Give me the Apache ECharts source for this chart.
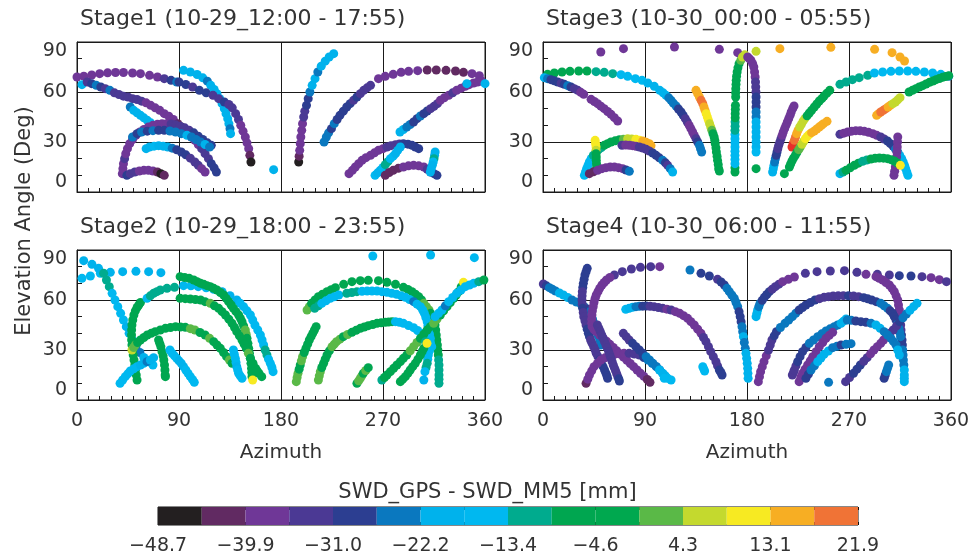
<!DOCTYPE html>
<html>
<head>
<meta charset="utf-8">
<title>SWD_GPS - SWD_MM5</title>
<script src="https://cdn.jsdelivr.net/npm/echarts@6.0.0/dist/echarts.min.js"></script>
<style>
  html, body { margin: 0; padding: 0; background: #fff; }
  #chart { width: 975px; height: 560px; }
</style>
</head>
<body>
<div id="chart"></div>
<script>
// titles of the four panels (grid order: top-left, top-right, bottom-left, bottom-right)
var stageTitles = [
  'Stage1 (10-29_12:00 - 17:55)',
  'Stage3 (10-30_00:00 - 05:55)',
  'Stage2 (10-29_18:00 - 23:55)',
  'Stage4 (10-30_06:00 - 11:55)'
]

// colour bar
var cbColors = ['#231f20', '#612a62', '#6f3797', '#4b3994', '#2c3e91', '#0a78bf', '#00b2ec', '#00b8f0',
  '#00ab8e', '#00a650', '#00a84f', '#5ab947', '#c4d92e', '#f7ea22', '#f7ae23', '#f07336']
var cbLabels = ['\u221248.7', '\u221239.9', '\u221231.0', '\u221222.2', '\u221213.4', '\u22124.6', '4.3', '13.1', '21.9']
var cbMin = -48.7
var cbMax = 21.9

// satellite tracks: [azimuth, elevation, SWD_GPS - SWD_MM5]
var stage1Tracks = [
  [[0,69,-37.7],[6,69.5,-37.7],[13,70.2,-37.7],[20,71,-37.7],[27,71.5,-37.7],[34,71.7,-37.7],[41,71.7,-37.7],[49,71.4,-37.7],[56,71,-37.7],[64,70,-37.7],[71,69,-37.7],[77,68,-33.2],[83,67,-28.8],[88,66,-24.4]],
  [[4.4,64.4,-20],[9,66,-33.2],[13,65,-28.8],[17,64,-24.4],[21,63,-28.8],[25,62,-33.2],[29,61,-24.4],[33,59.5,-33.2],[37,58.5,-33.2],[41,57.5,-33.2],[45,57,-33.2],[49,56,-33.2],[53,55.5,-33.2],[57,54.5,-33.2],[61,53.5,-37.7],[65,52,-37.7],[69,50.5,-37.7],[73,49,-37.7],[77,47,-37.7],[81,45.5,-37.7],[85,43.5,-37.7],[89,41,-42.1],[92,39,-46.5],[95,37,-37.7],[98,35,-37.7],[101,33,-37.7],[104,31,-37.7],[107,28.5,-37.7],[110,26,-33.2],[113,23,-33.2],[116,20,-33.2],[118.5,17,-28.8],[121,14.5,-28.8],[123,12,-28.8]],
  [[47,51,-24.4],[50,49,-20],[53,47.5,-20],[56,46,-20],[59,44.5,-20],[62,43,-20],[65,41.5,-20],[68,39.5,-20]],
  [[40,11,-37.7],[40.5,14,-37.7],[41,17,-37.7],[42,20,-33.2],[43,23,-37.7],[44.5,26,-37.7],[46.5,29,-37.7],[49,31.5,-37.7],[52,34,-37.7],[55.5,36,-37.7],[59,37.5,-37.7],[63,39,-37.7],[67,40,-37.7],[71,40.6,-37.7],[75,41,-37.7],[79,41,-37.7],[83,40.8,-33.2],[87,40.3,-33.2],[91,39.5,-33.2],[95,38.5,-33.2],[99,37,-33.2],[103,35.5,-28.8],[107,33.5,-28.8],[111,31.5,-28.8],[115,29.5,-28.8],[118.5,28,-28.8]],
  [[49,33,-24.4],[53,35,-28.8],[57,36,-24.4],[62,36.5,-28.8],[67,36.8,-24.4],[72,37,-28.8],[77,37,-28.8],[82,36.6,-24.4],[87,36,-24.4],[92,35,-24.4],[97,34,-20],[101,33,-24.4],[105,31.5,-24.4],[109,30,-24.4],[113,28.5,-20],[117,27,-24.4]],
  [[61,26,-20],[64,27,-20],[68,27.5,-15.6],[72,27.8,-20],[76,27.5,-20],[80,27,-20],[84,26.3,-24.4],[88,25.3,-28.8],[92,24,-28.8],[96,22.3,-28.8],[100,20.3,-33.2],[104,18,-33.2],[107,16,-33.2],[110,14,-37.7],[113,12,-37.7]],
  [[44,10,-28.8],[47,11,-33.2],[51,12,-33.2],[55,12.6,-37.7],[59,13,-37.7],[63,13,-37.7],[67,12.6,-37.7],[71,12,-42.1],[74,11,-46.5],[77,10,-42.1]],
  [[94,73,-20],[100,72,-20],[106,70.5,-20],[111,68.5,-20],[115,66.5,-24.4],[118,64,-20],[121,61.5,-20],[123.5,59,-20],[126,56,-20],[128,53,-20],[130,50,-20],[131.5,47,-20],[133,44,-20],[134,41,-20],[135,38,-24.4],[135.5,35,-20]],
  [[90,66,-28.8],[96,64.5,-28.8],[102,63,-33.2],[108,61,-28.8],[114,59.5,-28.8],[120,58,-33.2],[125,56,-33.2],[130,54,-28.8],[134,52.5,-33.2],[137,50.5,-33.2],[140,47,-33.2],[142.5,43.5,-33.2],[144.5,40,-37.7],[146.5,36.5,-37.7],[148.5,33,-37.7],[150,29.5,-37.7],[151.5,26,-37.7],[152.5,22,-42.1],[153.5,18,-46.5]],
  [[173.5,13.4,-20]],
  [[195.6,18,-46.5],[196,21.5,-42.1],[196.5,25,-37.7],[197,29,-37.7],[197.5,33,-37.7],[198.3,37,-37.7],[199,41,-37.7],[200,45,-33.2],[201,48.5,-33.2],[202.5,52,-28.8],[204,56,-28.8],[205.5,60,-24.4],[207.5,64,-20],[210,68,-20],[212.5,72,-24.4],[215.5,75.5,-20],[219,78.5,-20],[222.5,81,-20],[226.5,83,-20]],
  [[218,30,-24.4],[220,33,-24.4],[222,35.5,-24.4],[224.5,38,-28.8],[227,41,-24.4],[229.5,43.5,-28.8],[232,46,-28.8],[235,48.5,-28.8],[238,51,-28.8],[241,53,-28.8],[244,55,-33.2],[247,57,-28.8],[250,59,-33.2],[253,61,-33.2],[256,62.5,-33.2],[259,64,-33.2]],
  [[266,68,-37.7],[272,69.4,-37.7],[279,70.6,-37.7],[286,71.8,-37.7],[292.6,72.4,-37.7],[300.6,72.8,-37.7],[309,73.2,-42.1],[317,73.2,-42.1],[325.6,73,-42.1],[334,72.6,-42.1],[341,71.8,-42.1],[348.5,71,-37.7],[355,69.8,-37.7]],
  [[285,36,-20],[288,37.5,-20],[291,39,-24.4],[294,40.5,-24.4],[297,42,-28.8],[300,44,-28.8],[303,45.6,-24.4],[306,47,-28.8],[309,48.6,-28.8],[312,50,-33.2],[315,51.4,-33.2],[318,53,-33.2],[320.6,55,-37.7],[324,56.5,-37.7],[328,58,-37.7],[331.5,59.5,-33.2],[335,61,-37.7],[339,62.3,-37.7],[342.6,63.4,-37.7],[346,64.4,-37.7],[350,65.4,-37.7],[353.5,66,-37.7],[357,66.6,-37.7],[344,65,-20],[360,65,-20]],
  [[240,11,-37.7],[243,13,-37.7],[245.6,15,-37.7],[248.5,17,-37.7],[251.5,19,-37.7],[255,20.6,-37.7],[259,22,-37.7],[262.5,23.5,-37.7],[266,25,-37.7],[270,26,-37.7],[273.5,27,-33.2],[277,27.8,-33.2],[281,28.4,-33.2],[284.5,28.8,-33.2],[288,29,-28.8],[292,28.7,-28.8],[295.6,28,-28.8],[298.5,27,-28.8],[301.5,26,-28.8]],
  [[263,10,-15.6],[265.3,11.5,-20],[267.6,13,-20],[270,14.7,-15.6],[272,16.4,-11.2],[274.3,18.2,-11.2],[276.5,20,-15.6],[279,21.5,-15.6],[281,23,-20],[283,25,-20],[285.3,27,-20]],
  [[272,10,-42.1],[275.5,11.7,-42.1],[279,13,-42.1],[283.5,14.2,-42.1],[288,15,-37.7],[292.5,15.7,-37.7],[297,16,-37.7],[301.5,15.7,-37.7],[306,15,-37.7],[309,13.6,-33.2],[312,12,-33.2],[315,11,-28.8],[317.6,10,-28.8]],
  [[316,24,-20],[315.5,22,-20],[315,20,-11.2],[314.3,18,-15.6],[313.5,16,-20],[312.5,14,-20],[311.8,12,-20]]
]

var stage3Tracks = [
  [[51,84,-37.7],[71,86,-37.7],[116,87,-37.7],[155.6,85.6,-37.7],[171.8,83.6,-37.7],[188,84.4,6.5],[209,86,15.3],[254,86.8,15.3],[292.6,85.6,15.3],[308,83.6,15.3],[315,81,15.3],[319,78.6,15.3]],
  [[4,70.6,-6.8],[10,71.4,-6.8],[16.8,72,-6.8],[23.8,72.4,-6.8],[31.5,72.6,-6.8],[38.8,72.6,-6.8],[46.8,72.2,-11.2],[54,71.8,-11.2],[61.5,71,-11.2],[68.8,70.4,-15.6],[74.7,69.4,-15.6],[81.5,68,-15.6],[87.4,67,-15.6],[92.4,65.4,-20],[98.2,63.4,-20],[103,61,-20],[106,59.5,-20],[108.5,58,-20],[111,56.5,-24.4],[113,55,-24.4],[115,53.3,-24.4],[117.4,51.6,-24.4],[119.5,49.8,-28.8],[121.8,48,-28.8],[123.7,46,-28.8],[125.6,44,-33.2],[127.3,42,-33.2],[129,40,-37.7],[130.5,38,-37.7],[132,36,-37.7],[133.5,34,-37.7],[135,32,-33.2],[136.5,30,-28.8],[138,28,-24.4],[139,26,-24.4],[140,24,-24.4]],
  [[1.2,68.6,-20],[4,68,-24.4],[7,67.4,-28.8],[10,66.7,-28.8],[13,66,-28.8],[16,65.3,-33.2],[18.8,64.6,-28.8],[21.8,63.8,-24.4],[24.7,63,-28.8],[27.6,62,-33.2],[30.6,61,-33.2],[33.3,59.8,-37.7],[35.9,58.6,-37.7],[42.4,55.6,-37.7],[45.3,54.3,-37.7],[48.2,53,-37.7],[51,51.5,-37.7],[54,50,-37.7],[57,48.3,-37.7],[60,46.6,-37.7],[63,44.6,-37.7],[65.9,42.6,-37.7]],
  [[36.5,10,-15.6],[37.5,12,-15.6],[38.5,14,-15.6],[39.7,16,-15.6],[40.9,18,-15.6],[42.5,20,-15.6],[44.4,22,-11.2],[46.7,23.7,-11.2],[49,25.4,-11.2],[51.5,26.7,-11.2],[54,28,-6.8],[57,29,-6.8],[60,30,-6.8],[63.7,30.7,-6.8],[67.4,31.4,-6.8],[71,31.7,2],[74.7,32,6.5],[78.3,31.8,6.5],[82,31.6,10.9],[85,31.1,10.9],[88,30.6,15.3],[91,29.8,15.3],[93.8,29,15.3],[95.3,27.8,15.3]],
  [[46,31,10.9],[46.4,29,10.9],[46.8,27,10.9],[46.8,25,6.5],[46.8,23,-6.8],[47,21,-6.8],[47,19,-6.8],[47.2,17,-6.8],[47.4,15,-6.8]],
  [[40.9,11,-42.1],[44.5,12.1,-42.1],[48.2,13,-37.7],[52,14,-37.7],[55.6,14.6,-37.7],[59.3,15,-37.7],[63,15,-37.7],[66.6,14.6,-37.7],[70.3,14,-37.7],[73.3,13.2,-28.8],[76.2,12.4,-24.4]],
  [[69.7,28,-33.2],[73,28.2,-37.7],[76.2,28,-37.7],[79,27.8,-37.7],[82,27.4,-37.7],[85,27,-33.2],[88,26.4,-33.2],[91,25.6,-33.2],[93.8,24.6,-33.2],[96.8,23.4,-28.8],[99.7,22,-28.8],[102.6,20.5,-28.8],[105.6,19,-24.4],[108,17.5,-28.8],[110,16,-33.2],[112.3,14,-24.4],[114.4,12,-20]],
  [[135,61,15.3],[136.5,59,15.3],[138,57,15.3],[139.5,55,19.7],[141,53,19.7],[142,51,15.3],[143,49,15.3],[144,47,10.9],[145,45,10.9],[146,43,10.9],[147,41,6.5],[148,39,6.5],[149,37,2],[150,35,-6.8],[151,33,-6.8],[151.6,31,-6.8],[152,29,-6.8],[152.6,26.5,-6.8],[153,24,-6.8],[153.6,21.5,-6.8],[154,19,-6.8],[154.6,16.5,-6.8],[155,14,-6.8],[155.6,12.6,-6.8]],
  [[169.4,12,-6.8],[169.4,14.5,-6.8],[169.4,17,-15.6],[169.4,19.5,-15.6],[169.4,22,-15.6],[169.4,24.5,-15.6],[169.4,27,-15.6],[169.4,29.5,-15.6],[169.4,32,-15.6],[169.4,34.5,-15.6],[169.4,37,-11.2],[169.5,39.5,-11.2],[169.5,42,-11.2],[169.6,44.5,-6.8],[169.6,47,-6.8],[169.7,49.5,-6.8],[169.8,52,-6.8],[170,57,-6.8],[170,59.5,-6.8],[170.1,62,-6.8],[170.3,64.5,-6.8],[170.5,67,-6.8],[170.8,69.5,-6.8],[171.3,72,-6.8],[172,74.5,-6.8],[173,77,-6.8],[174.5,79,2],[176,81,6.5],[178,82.3,6.5]],
  [[180.6,81,-37.7],[182,80,-37.7],[183.5,79,-37.7],[185,77,-37.7],[186,75,-37.7],[186.7,72,-37.7],[187.2,69,-37.7],[187.5,66,-33.2],[187.7,63,-33.2],[187.9,60,-33.2],[188,57,-28.8],[188,54,-28.8],[188,51,-28.8],[188,48,-24.4],[188,45,-24.4],[188,42,-20],[188,39,-20],[188,36,-20],[188,33,-20],[188,30,-20],[188,27,-20],[188,24,-15.6],[188,14,-6.8]],
  [[202.6,12,-20],[203.2,14,-20],[203.8,16,-20],[204.4,18,-24.4],[205,20,-24.4],[205.8,22,-28.8],[206.5,24,-28.8],[207.2,26,-33.2],[208,28,-33.2],[209,30,-33.2],[210,32,-33.2],[211,34,-37.7],[212,36,-37.7],[213.2,38,-37.7],[214.4,40,-37.7],[215.6,42,-37.7],[216.8,44,-37.7],[218,46,-37.7],[219,48,-37.7],[220.3,50,-37.7],[221.5,51.6,-37.7]],
  [[213,11,-6.8]],
  [[219.7,27,24],[220.7,29,24],[221.8,31,19.7],[222.8,33,19.7],[223.8,35,15.3],[225,37,15.3],[226.5,39,6.5],[228,40.6,6.5],[229.5,42.5,6.5],[231,44,6.5],[233,45.7,-2.4],[235,47.4,-6.8],[237,49,-6.8],[239.4,51,-6.8],[241.6,52.8,-6.8],[243.8,54.6,-6.8],[246,56,-6.8],[248,57.6,-6.8],[250.5,59.3,-6.8],[253,61,-6.8]],
  [[217.4,15,-6.8],[218.5,16.8,-6.8],[219.7,18.6,-6.8],[221,20.3,-6.8],[222.6,22,-6.8],[224,23.7,-2.4],[225.6,25.4,2],[227,27,2],[228.5,28.6,6.5],[230,30.3,6.5],[231.5,32,10.9],[233.2,33.4,10.9],[235,34.6,10.9],[237,35.6,15.3],[239.4,36.6,15.3],[241.6,37.8,15.3],[243.8,39,15.3],[245.7,40,15.3],[247.6,41,15.3],[250.6,42.4,15.3]],
  [[262,64.6,-11.2],[267.4,66,-11.2],[273,67.4,-11.2],[279,68.6,-11.2],[286.5,70,-11.2],[292.4,71.4,-15.6],[299.7,72,-15.6],[307,72.4,-15.6],[314.4,72.6,-15.6],[321.8,72.6,-15.6],[329,72.4,-15.6],[336.5,72,-15.6],[343.8,71.4,-15.6],[351,70.6,-15.6],[358,69.4,-24.4]],
  [[323,60,-6.8],[326,61,-6.8],[329,62,-6.8],[332,63,-6.8],[335,63.8,-6.8],[338,64.8,-6.8],[341,65.8,-6.8],[344,66.6,-6.8],[346.8,67.4,-6.8],[349.7,68.1,-6.8],[352.6,68.8,-6.8],[355.3,69.3,-6.8],[358,69.8,-6.8]],
  [[294.4,46,15.3],[296.2,47,15.3],[298,48,19.7],[300.3,49,19.7],[302.6,50,19.7],[304.5,51,15.3],[306.5,52,15.3],[308.8,53,6.5],[311,54,6.5],[313,55.3,6.5],[315,56.6,6.5]],
  [[262,34.6,-33.2],[265.4,35.3,-37.7],[268.8,36,-37.7],[272.4,36.5,-37.7],[276,36.8,-37.7],[279.8,36.7,-37.7],[283.5,36.4,-37.7],[287.2,35.8,-37.7],[291,35,-37.7],[294.5,34,-37.7],[298,33,-33.2],[301,31.8,-33.2],[304,30.6,-28.8],[306.5,29,-28.8],[309,27.4,-28.8],[311,25.7,-24.4],[313,24,-24.4],[314.8,22,-20],[316.5,20,-20],[317.8,18,-20],[319,16,-20],[320,14,-15.6],[321,12,-15.6],[322,10,-15.6]],
  [[313,33,-37.7],[312.8,30,-37.7],[312.6,27,-37.7],[312.3,24,-37.7],[312,21,-37.7],[311.5,18,-37.7],[310.9,15,-37.7],[310.3,12.5,-37.7],[309.7,10,-37.7]],
  [[262,11,-20],[264.7,12,-11.2],[267.4,13,-6.8],[271,14.5,-6.8],[274.7,16,-6.8],[278.3,17.3,-6.8],[282,18.4,-11.2],[285.7,19.2,-11.2],[289.4,19.8,-6.8],[293,20.2,-6.8],[296.8,20.4,-6.8],[300.4,20.3,-6.8],[304,20,-6.8],[307,19.4,-6.8],[310,18.6,-6.8],[312.7,17.4,-6.8],[315.3,16,10.9]]
]

var stage2Tracks = [
  [[4.4,73,-15.6],[11.8,74.4,-15.6],[20.6,76,-15.6],[29.4,76.6,-20],[40.3,77,-20],[52,77.2,-20],[63.2,77,-20],[74,76.4,-20]],
  [[5.9,83.6,-20],[13.2,81.4,-20],[19,79,-20],[23.5,76,-11.2],[26,72,-11.2],[28.5,68,-11.2],[31,64,-15.6],[33.5,60,-15.6],[36,56,-15.6],[38.5,52,-15.6],[41,48,-15.6],[43.5,44,-20],[46,40,-20],[49,36,-20],[52,32,-24.4],[55.5,28.5,-24.4],[59,25.5,-20],[63,23,-20],[67,21,-15.6]],
  [[53,12,-6.8],[52.3,15,-6.8],[51.6,18,-6.8],[51,21,-6.8],[50.3,24,-6.8],[49.6,27,-6.8],[49,30,-6.8],[48.5,33,-6.8],[48.2,36,-6.8],[48.1,39,-6.8],[48.2,42,-6.8],[48.5,45,-6.8],[49.2,48,-6.8],[50.2,51,-6.8],[51.5,53.5,-6.8],[53,55.5,-6.8],[54.5,57,-6.8],[56,58.5,-6.8]],
  [[48.5,30,6.5],[50,31.5,2],[51.5,33,2],[53.5,34.5,-6.8],[56,36,-6.8],[59,37.5,-6.8],[62,39,-6.8],[65.5,40,-6.8],[69,41,-6.8],[73.5,42,-6.8],[78,43,-6.8],[82.5,43.5,-6.8],[87,44,-6.8],[91.3,43.8,-6.8],[95.6,43.6,-6.8],[100,42.8,2],[104,42,2],[108.5,40.5,-6.8],[113,39,-6.8],[117,37,2],[120.6,35,-6.8],[123.5,33,-6.8],[126.5,31,-6.8],[129.3,28.5,-6.8],[132,26,-6.8],[134.5,24,2],[136.8,22,-6.8]],
  [[38,10,-15.6],[40.3,12,-15.6],[42.6,14,-15.6],[44.8,15.7,-15.6],[47,17.4,-15.6],[50,18.7,-15.6],[53,20,-15.6],[56,21,-20],[58.8,22,-20],[61.8,23,-24.4],[64.7,24,-20],[67.6,25.4,-20]],
  [[72,36,-6.8],[73,34,-6.8],[74,32,-6.8],[75,29,-6.8],[76,26.5,-6.8],[76.6,24,-6.8],[77.2,21,-6.8],[77.6,18,-6.8],[77.8,15,-6.8],[78,14,-6.8]],
  [[82,30,-15.6],[84,28,-15.6],[86,26.5,-15.6],[88,25,-15.6],[90,23.5,-20],[92,22,-20],[94,20,-20],[96,18,-15.6],[98,16,-15.6],[100,14,-15.6],[102,12.2,-15.6],[103.5,10.6,-15.6]],
  [[61.8,61,-15.6],[64.7,62.5,-11.2],[67.6,64,-11.2],[70.5,65,-11.2],[73.5,66,-11.2],[79.4,67,-11.2],[86,67.6,-11.2],[94,68.6,-15.6],[100.5,68.5,-15.6],[107,68,-15.6],[114,67.3,-15.6],[120.6,66.4,-15.6],[128,65,-20],[135,62.6,-20],[141,60,-20],[144,58,-15.6],[147,56,-15.6],[150,53.5,-15.6],[153,51,-15.6],[155,48,-15.6],[157,45,-15.6],[159.5,42,-15.6],[161.8,39,-15.6],[163.3,36,-15.6],[164.7,33,-15.6],[166,30,-11.2],[167.6,27,-11.2],[169,24.5,-15.6],[170.6,22,-15.6],[172,19.5,-15.6],[173,17,-15.6]],
  [[91,74,-6.8],[95,73.5,-6.8],[99,73,-6.8],[103,72,-6.8],[106,71,-6.8],[109,70,-6.8],[111.8,69.4,-6.8],[114.7,68.6,-6.8],[117.6,68,-6.8],[120.6,67,-6.8],[123.5,66,-6.8],[126.5,64.5,-6.8],[129.4,63,-6.8],[131.6,61,-6.8],[133.8,59,-6.8],[136,57,-6.8],[138,55,-2.4],[140.3,53,-6.8],[142.6,51,-6.8],[144.2,49,-6.8],[145.6,47,-6.8],[147,44.5,-6.8],[148.5,42,2],[149.3,39.5,2],[150,37,-6.8],[150.8,34,-6.8],[151.5,31,-6.8],[152.2,28,-6.8],[153,25,-6.8],[153.5,22,-6.8],[154,19,-6.8],[154.2,16.5,-6.8],[154.4,14,-6.8],[155,12,10.9]],
  [[91,61,-6.8],[95.5,60.8,-6.8],[100,60.6,-6.8],[104.5,60.3,-6.8],[109,60,-6.8],[113,59,-6.8],[117.6,58,2],[121.3,56.5,-6.8],[125,55,-6.8],[128,53,-6.8],[131,51,-6.8],[134,48.5,-6.8],[136.8,46,-6.8],[139,43.5,-6.8],[141,41,-6.8],[143.3,38.5,-6.8],[145.6,36,-6.8],[147.5,33.5,-6.8],[149.4,31,-6.8],[151.2,28,2],[153,25,-6.8],[155.3,22,-6.8],[157.6,19,-6.8],[159,17.5,-6.8],[160.6,16,-6.8],[163,14,-6.8]],
  [[138,30,-15.6],[138.8,27.5,-15.6],[139.7,25,-15.6],[140.3,22.5,-15.6],[141,20,-20],[141.8,18,-15.6],[142.6,16,-15.6],[144,14.5,-15.6],[145.6,13,-15.6]],
  [[193.5,11,2],[194.2,13.5,2],[195,16,2],[196,18.5,-6.8],[197,21,-6.8],[198,23.5,2],[199,26,2],[200.5,28.5,-6.8],[202,31,-6.8],[203.5,33.5,-6.8],[205,36,-6.8],[206.5,38,-6.8],[208,40,-6.8],[209.5,42,-6.8],[211,44,-6.8]],
  [[203,54,2],[205,56,2],[207,58,-6.8],[210,60,-6.8],[213,62,-6.8],[216.6,63.5,-6.8],[220.6,65,-6.8],[224.3,66.2,-6.8],[228,67.4,-6.8],[235.3,69.4,-6.8],[242.6,71,-6.8],[250,71.6,-6.8],[257,71.8,-6.8],[266,71.6,-6.8],[273.5,70.6,-6.8],[281,69.4,-6.8],[288,67.6,-6.8],[292,66.3,-6.8],[295.6,65,-6.8],[298.6,63.5,-6.8],[301.5,62,-6.8],[304,60,-6.8],[306,58,2],[308.3,56,2],[310.6,54,2],[312,52,-6.8],[313.5,50,-6.8],[314.7,47.5,-6.8],[315.9,45,-6.8],[316.5,42,-6.8],[317,39,-6.8],[317.5,36,-6.8],[318,33,-6.8],[318.4,30,-6.8],[318.8,27,-6.8],[319.1,24,-11.2],[319.4,21,-11.2],[319.4,18,-11.2],[319.4,15,-11.2],[319.4,12.5,-11.2],[319.4,10,-11.2]],
  [[209.7,55,-11.2],[213,56.5,-11.2],[216,58,-15.6],[219.7,59.5,-15.6],[223.5,61,-15.6],[227.2,62,-15.6],[231,63,-15.6],[238,64,-11.2],[242.5,64.5,-11.2],[247,65,-11.2],[251.5,65.2,-15.6],[256,65.4,-15.6],[260.3,65.4,-15.6],[264.7,65.4,-15.6],[269,65,-15.6],[273.5,64.6,-15.6],[277.7,64,-15.6],[282,63.4,-15.6],[286,62.5,-15.6],[289.7,61.6,-15.6],[293.4,60.3,-15.6],[297,59,-24.4],[300,57.5,-15.6],[303,56,-15.6],[305,54,-15.6],[306.5,52,-15.6],[307.8,49.5,-15.6],[309,47,-15.6],[309.6,44.5,-15.6],[310,42,-15.6],[311,39.5,-15.6],[311.8,37,-15.6],[311.8,34.5,-15.6],[311.8,32,-15.6],[311,29.5,-15.6],[310,27,-15.6],[309.5,24.5,-15.6],[309,22,-11.2],[308,19.5,-11.2],[307,17,-15.6],[306,12,-20]],
  [[213,12,2],[213.8,14.5,2],[214.7,17,2],[216,19.5,-6.8],[217.6,22,-6.8],[219,24.5,-6.8],[220.6,27,-6.8],[222.7,29.5,-6.8],[225,32,2],[227,33.5,2],[229,35,2],[232,36.5,2],[235,38,-6.8],[238.8,39.3,2],[242.6,40.6,-6.8],[246.3,41.8,-6.8],[250,43,-6.8],[253.5,43.8,-6.8],[257,44.6,-6.8],[261,45.3,-6.8],[264.7,46,-6.8],[268.4,46.3,-6.8],[272,46.6,-6.8],[275,46.8,-6.8],[278,47,-6.8]],
  [[281,47,-15.6],[284.5,46.6,-15.6],[288,46,-15.6],[292.5,44.7,-15.6],[297,43.4,-15.6],[300.5,41.7,-15.6],[304,40,-15.6],[307,38,-15.6],[310,36,-15.6],[311.5,34,-15.6],[313,32,-15.6]],
  [[247,10,-6.8],[248.5,11.5,2],[250,13,2],[251.3,14.5,2],[252.6,16,-6.8],[254.8,17.7,2],[257,19.4,-6.8]],
  [[269,12,-11.2],[271.3,13.5,-6.8],[273.5,15,-6.8],[276.5,17,-6.8],[279.4,19,-6.8],[282.3,21,-6.8],[285.3,23,-6.8],[288,25,-6.8],[291,27,-6.8],[294,29.5,2],[297,32,2],[300,34.5,2],[303,37,-6.8],[306,39.5,-6.8],[309,42,-6.8],[311.8,44,-6.8],[314.7,46,2],[317.6,48.5,2],[320.6,51,-6.8],[323.5,53.5,-6.8],[326.5,56,-6.8],[329.4,58.5,-6.8],[332.4,61,-6.8],[334.6,63,-6.8],[336.8,65,-6.8],[339,67.8,-6.8],[341,70.6,10.9]],
  [[316,50,-15.6],[319,52,-15.6],[322,54,-15.6],[325,56.5,-24.4],[328,59,-15.6],[331.5,61.5,-15.6],[335,64,-15.6],[338.8,66,-15.6],[342.6,68,-15.6],[346.3,69,-15.6],[350,70,-15.6],[354.5,71,-11.2],[359,72,-6.8]],
  [[285.3,11,-6.8],[287.5,12.5,-6.8],[289.7,14,-6.8],[292,16,-6.8],[294,18,-6.8],[296.2,20,-6.8],[298.5,22,-6.8],[300.8,24.5,-6.8],[303,27,-6.8],[304.5,29,-6.8],[306,31,-6.8],[307.5,35,-11.2],[308.8,34,10.9]],
  [[261,86.4,-15.6],[312,87,-15.6],[350.6,85.4,-15.6]]
]

var stage4Tracks = [
  [[0.3,69.6,-33.2],[3,68.5,-28.8],[5.6,67.4,-24.4],[8.3,66.4,-24.4],[11,65.4,-24.4],[14.5,64.2,-20],[18,63,-20],[21.8,61.5,-20],[25.6,60,-24.4],[29.5,58.8,-24.4],[33.5,57.6,-24.4],[36.3,56,-24.4],[39,54.6,-28.8],[40.7,52.8,-24.4],[42.4,51,-24.4],[43.7,48.5,-24.4],[45,46,-24.4],[46.2,43.5,-28.8],[47.4,41,-28.8],[48.7,38.5,-24.4],[50,36,-24.4],[51,33,-24.4]],
  [[39,79,-28.8],[38,77,-28.8],[37,75,-28.8],[36.3,72.5,-28.8],[35.6,70,-28.8],[35.1,67.5,-28.8],[34.7,65,-33.2],[34.5,62.5,-33.2],[34.4,60,-33.2],[34.6,57.5,-33.2],[35,55,-28.8],[35.5,52.5,-33.2],[36,50,-33.2],[37,47.5,-33.2],[38,45,-33.2],[39,42.5,-28.8],[40,40,-28.8],[41,38,-28.8],[42,36,-33.2],[43.3,34,-33.2],[44.7,32,-33.2],[46,30,-33.2],[47,28,-33.2],[48.5,26,-33.2],[50,24,-28.8],[51.5,22,-28.8],[53,20,-28.8],[54.3,18,-28.8],[55.6,16,-28.8],[56.4,14.5,-28.8],[57,13,-28.8]],
  [[103,80,-37.7],[95,80,-33.2],[86,79.6,-33.2],[78,78.6,-33.2],[70,77,-33.2],[63,75,-33.2],[59,73.5,-37.7],[56,72,-37.7],[54,70.5,-37.7],[52,69,-37.7],[50,67,-37.7],[48.5,65,-37.7],[47,63,-37.7],[46,61,-37.7],[45,58.5,-37.7],[44.3,56,-37.7],[43.6,53.5,-37.7],[43.2,51,-37.7],[43,48.5,-37.7],[43,46,-37.7],[43.3,44,-37.7],[45,42.3,-37.7],[47,41,-37.7],[50,39,-37.7],[53,37.3,-37.7],[56,35.3,-37.7],[59,33.4,-37.7],[62,31.5,-37.7],[65,29.6,-37.7],[68,27.6,-37.7],[71,25.7,-37.7],[74,23.8,-37.7],[77,21.9,-37.7],[80,20,-37.7],[83,18,-37.7],[86,16,-37.7],[89,14.2,-37.7],[92,12.3,-42.1],[94.4,10.6,-42.1]],
  [[38,10,-42.1],[39.5,12.5,-37.7],[41,15,-37.7],[43,17.5,-37.7],[45,20,-37.7],[48,22,-37.7],[51,24,-37.7],[54.7,25.3,-37.7],[58.5,26.6,-37.7],[62.7,27.3,-37.7],[67,28,-37.7],[71.5,28,-37.7],[76,28,-33.2],[80.5,27.6,-33.2],[85,27,-33.2],[89,25.5,-28.8],[92.6,24,-24.4],[96.3,22,-24.4],[100,20,-24.4],[103,18,-24.4],[105.6,16,-20],[108,14.5,-20],[110,13,-15.6],[113,12,-15.6]],
  [[48,45,-33.2],[49.3,43,-33.2],[50.6,41,-33.2],[51.8,39,-33.2],[53,37,-33.2],[54.3,35,-33.2],[55.6,33,-33.2],[56.8,31,-33.2],[58,29,-33.2],[59,27,-33.2],[60,25,-33.2],[61,23,-33.2],[62,21,-33.2],[63,19.3,-33.2],[64,17.6,-33.2],[65,15.8,-33.2],[66,14,-33.2],[66.8,12.7,-28.8],[67.4,11.4,-28.8]],
  [[70.9,40,-33.2],[73.4,38,-33.2],[76,36,-33.2],[79,34,-28.8],[82,32,-28.8],[85,30,-28.8],[88,28,-28.8],[91,26,-24.4],[94,24,-24.4],[97,22,-24.4],[100,20,-24.4],[102.8,18,-20],[105.6,16,-20],[107,13,-15.6]],
  [[73,54.4,-15.6],[76,55,-20],[79,55.6,-20],[82,56,-24.4],[85,56.2,-24.4],[88,56.3,-28.8],[91,56.4,-28.8],[94.5,56.2,-33.2],[98,56,-33.2],[101.8,55.5,-33.2],[105.6,55,-33.2],[109.3,54.5,-37.7],[113,54,-33.2],[116.8,53,-37.7],[120.6,52,-37.7],[124,50.6,-37.7],[127.6,49,-37.7],[130.5,47,-37.7],[133.5,45,-37.7],[136.5,42.5,-37.7],[139.4,40,-37.7],[141.6,37.5,-33.2],[143.8,35,-33.2],[146,32,-33.2],[148,29,-33.2],[150.3,26,-33.2],[152.6,23,-33.2],[154,20.5,-33.2],[155.6,18,-28.8],[157,16.5,-28.8],[158,15,-28.8]],
  [[141,20,-15.6],[141.8,18.7,-15.6],[142.6,17.4,-15.6]],
  [[129.7,78,-24.4],[139.4,76,-28.8],[146.8,74.4,-28.8],[154,72.4,-33.2],[157.2,70.8,-28.8],[160,69,-28.8],[162.3,67,-24.4],[164.4,65,-24.4],[166.6,63,-24.4],[168.8,61,-24.4],[170.3,58.5,-24.4],[171.8,56,-24.4],[173,53,-28.8],[174,50,-28.8],[174.8,47,-28.8],[175.6,44,-24.4],[176.2,41,-24.4],[176.8,38,-20],[177.6,34.5,-24.4],[178.5,31,-24.4],[179.1,28,-20],[179.7,25,-20],[180.2,22,-20],[180.6,19,-20],[180.8,16,-20],[181,13,-20]],
  [[188,50,-20],[188.7,52,-20],[189.4,54,-20],[190.4,56,-24.4],[191.5,58,-24.4],[193.4,59.8,-28.8],[195.3,61.6,-28.8],[197.5,63.3,-28.8],[199.7,65,-28.8],[202.3,66.5,-33.2],[205,68,-33.2],[208.2,69.5,-33.2],[211.5,71,-37.7],[216.5,72.4,-37.7],[221.8,73.8,-37.7],[231.5,76,-33.2],[241.8,77,-33.2],[253.5,77.4,-33.2],[266,77.6,-33.2],[277,76.6,-33.2],[285,75.4,-37.7],[295,75.4,-33.2],[305.6,75,-33.2],[314.4,74.6,-28.8],[324.7,74.4,-28.8],[334.4,74,-33.2],[342.4,73.4,-37.7],[349.7,72.2,-37.7],[356,71,-33.2]],
  [[293.8,74,-37.7],[296.7,73,-37.7],[299.7,72,-37.7],[302.6,70.5,-37.7],[305.6,69,-37.7],[308,67,-37.7],[310,65,-37.7],[311.6,62.5,-37.7],[313,60,-37.7],[313.7,57,-37.7],[314.4,54,-37.7],[314.9,51,-37.7],[315.3,48,-33.2],[315.6,45,-33.2],[315.9,42,-33.2],[316.3,39,-28.8],[316.8,36,-28.8],[317.1,33,-28.8],[317.4,30,-24.4],[317.7,27,-24.4],[318,24,-24.4],[318.4,21,-24.4],[318.8,18,-20],[318.8,15,-20],[318.8,13,-20],[318.8,11,-20]],
  [[190,11,-37.7],[191,14,-37.7],[192,17,-37.7],[193.5,20,-37.7],[195,23,-37.7],[197,26.5,-37.7],[199,30,-33.2],[200.5,33,-33.2],[202,36,-33.2],[204,38.5,-28.8],[206,41,-28.8],[209.5,43.5,-24.4],[213.5,46,-24.4],[216.8,48,-24.4],[220,50,-24.4],[223,52,-24.4],[226,54,-28.8],[229,55.5,-28.8],[232,57,-28.8],[236,58.5,-28.8],[240,60,-28.8],[244,60.8,-33.2],[248,61.6,-33.2],[252,62,-33.2],[256,62.4,-33.2],[260.5,62.5,-33.2],[265,62.6,-33.2],[269.5,62.5,-28.8],[274,62.4,-33.2],[278.5,62,-33.2],[283,61.4,-28.8],[286.5,60.7,-28.8],[290,60,-28.8],[294,59,-28.8],[298,58,-24.4],[301,56.5,-24.4],[304,55,-24.4],[306.3,53.5,-28.8],[308.5,52,-28.8],[310,50,-28.8],[311.5,48,-28.8],[312.8,45.5,-24.4],[314,43,-24.4],[314.8,40.5,-24.4],[315.5,38,-24.4]],
  [[220,15,-33.2],[221,16.5,-33.2],[221.8,18,-33.2],[223.2,20.5,-33.2],[224.7,23,-28.8],[226.8,26,-28.8],[229,29,-28.8],[232,31.5,-28.8],[235,34,-24.4],[238.7,36,-24.4],[242.4,38,-24.4],[246,39.7,-24.4],[249.7,41.4,-24.4],[253.3,42.7,-24.4],[257,44,-24.4],[260,45,-24.4],[263,46,-20],[265.2,47.3,-20],[267.4,48.6,-20]],
  [[226,11,-37.7],[227.5,13.5,-37.7],[229,16,-37.7],[231.2,18.5,-37.7],[233.5,21,-37.7],[235.8,23.5,-37.7],[238,26,-37.7],[241,29,-37.7],[243.8,32,-37.7],[246.8,34.5,-37.7],[249.7,37,-37.7],[252.6,38.8,-37.7],[255.6,40.6,-37.7]],
  [[232,13,-28.8],[234.2,15.5,-28.8],[236.5,18,-24.4],[239.5,20.5,-24.4],[242.4,23,-20],[245.2,25.2,-20],[248,27.4,-20],[251.8,29.4,-20],[255.6,31.4,-24.4],[259.3,32.2,-24.4],[263,33,-28.8],[267.4,33.4,-24.4],[271.8,33.8,-24.4]],
  [[252,10.6,-24.4]],
  [[267,11,-33.2],[270.5,13.5,-33.2],[274,16,-28.8],[277,18.5,-28.8],[280,21,-28.8],[283,23.2,-33.2],[286,25.4,-33.2],[289,27.7,-37.7],[292,30,-37.7],[295,32,-37.7],[298,34,-37.7],[300.5,36,-37.7],[303,38,-37.7],[306,40,-37.7],[309,42,-33.2],[312,44.5,-33.2],[314.7,47,-28.8],[317.6,49.3,-24.4],[320.6,51.6,-24.4],[323.8,53.8,-20],[327,56,-20],[330,58,-20]],
  [[268.5,48,-24.4],[272,47.8,-24.4],[276,47.4,-28.8],[280.5,47,-28.8],[285,46.6,-28.8],[289.5,46,-24.4],[293.8,45,-20],[297.5,43,-20],[301,41,-24.4],[304,39,-24.4],[307,37,-24.4],[309.3,35,-24.4],[311.5,33,-24.4],[313,30,-20],[314.4,27,-20]],
  [[301,13,-28.8],[302,15,-28.8],[303,17,-24.4],[304,19,-24.4],[305,21,-24.4]]
]

// same order as the grids
var panelData = [stage1Tracks, stage3Tracks, stage2Tracks, stage4Tracks].map(function (t) {
  return [].concat.apply([], t)
})

var font = 'DejaVu Sans'
var textColor = '#333'
var lineColor = '#1a1a1a'
var boxes = [[77, 42], [543, 42], [77, 250], [543, 250]]
var boxW = 408
var boxH = 150

var chart = echarts.init(document.getElementById('chart'))

var grids = []
var xAxes = []
var yAxes = []
var series = []
var titles = []

boxes.forEach(function (b, i) {
  var bottomRow = i >= 2
  grids.push({ left: b[0], top: b[1], width: boxW, height: boxH, show: true, borderColor: lineColor, borderWidth: 1 })
  titles.push({
    text: stageTitles[i], left: b[0] - 2, top: b[1] - 39,
    textStyle: { fontFamily: font, fontSize: 22, fontWeight: 'normal', color: textColor }
  })
  xAxes.push({
    gridIndex: i, type: 'value', min: 0, max: 360, interval: 90,
    name: bottomRow ? 'Azimuth' : '', nameLocation: 'middle', nameGap: 43,
    nameTextStyle: { fontFamily: font, fontSize: 20, color: textColor },
    axisLine: { show: true, lineStyle: { color: lineColor } },
    axisTick: { show: true, inside: true, length: 4, lineStyle: { color: lineColor } },
    minorTick: { show: true, splitNumber: 9, length: 4, lineStyle: { color: lineColor } },
    axisLabel: { show: bottomRow, fontFamily: font, fontSize: 19, color: textColor, margin: 12 },
    splitLine: { show: true, lineStyle: { color: lineColor, width: 1 } }
  })
  yAxes.push({
    gridIndex: i, type: 'value', min: 0, max: 90, interval: 30,
    axisLine: { show: true, lineStyle: { color: lineColor } },
    axisTick: { show: true, inside: true, length: 5, lineStyle: { color: lineColor } },
    minorTick: { show: true, splitNumber: 3, length: 5, lineStyle: { color: lineColor } },
    axisLabel: {
      fontFamily: font, fontSize: 19, color: textColor, margin: 10,
      verticalAlignMinLabel: 'bottom', verticalAlignMaxLabel: 'top'
    },
    splitLine: { show: true, lineStyle: { color: lineColor, width: 1 } }
  })
  series.push({
    type: 'scatter', xAxisIndex: i, yAxisIndex: i,
    data: panelData[i], symbolSize: 9, clip: false, silent: true,
    itemStyle: { opacity: 1 }
  })
})

// colour bar grid
grids.push({ left: 158, top: 507, width: 700, height: 18, show: true, borderColor: '#111', borderWidth: 1 })
xAxes.push({
  gridIndex: 4, type: 'value', min: 0, max: cbColors.length, interval: 2,
  axisLine: { show: false },
  axisTick: { show: true, inside: true, length: 3, lineStyle: { color: '#111' } },
  minorTick: { show: true, splitNumber: 2, length: 3, lineStyle: { color: '#111' } },
  axisLabel: {
    fontFamily: font, fontSize: 19, color: textColor, margin: 12,
    formatter: function (v) { return cbLabels[Math.round(v / 2)] }
  },
  splitLine: { show: false }
})
xAxes.push({
  gridIndex: 4, type: 'value', position: 'top', min: 0, max: cbColors.length, interval: 2,
  axisLine: { show: false },
  axisTick: { show: true, inside: true, length: 3, lineStyle: { color: '#111' } },
  minorTick: { show: true, splitNumber: 2, length: 3, lineStyle: { color: '#111' } },
  axisLabel: { show: false },
  splitLine: { show: false }
})
yAxes.push({ gridIndex: 4, type: 'value', min: 0, max: 1, show: false })
series.push({
  type: 'custom', xAxisIndex: 4, yAxisIndex: 4, silent: true,
  data: cbColors.map(function (c, i) { return [i, 0] }),
  encode: { x: 0, y: 1 },
  renderItem: function (params, api) {
    var p0 = api.coord([api.value(0), 1])
    var p1 = api.coord([api.value(0) + 1, 0])
    return {
      type: 'rect',
      shape: { x: p0[0], y: p0[1], width: p1[0] - p0[0], height: p1[1] - p0[1] },
      style: { fill: cbColors[params.dataIndex] }
    }
  }
})
titles.push({
  text: 'SWD_GPS - SWD_MM5 [mm]', left: 'center', top: 477,
  textStyle: { fontFamily: font, fontSize: 21, fontWeight: 'normal', color: textColor }
})

// value -> colour pieces, same bins as the colour bar
var step = (cbMax - cbMin) / cbColors.length
var pieces = cbColors.map(function (c, i) {
  return { gte: cbMin + i * step, lt: cbMin + (i + 1) * step, color: c }
})
pieces.push({ gte: cbMax, color: '#e8302a' })
pieces.push({ lt: cbMin, color: cbColors[0] })

chart.setOption({
  animation: false,
  backgroundColor: '#fff',
  textStyle: { fontFamily: font },
  title: titles,
  grid: grids,
  xAxis: xAxes,
  yAxis: yAxes,
  visualMap: {
    type: 'piecewise', show: false, dimension: 2,
    seriesIndex: [0, 1, 2, 3], pieces: pieces
  },
  graphic: [{
    type: 'text', x: 25, y: 221, rotation: Math.PI / 2,
    style: {
      text: 'Elevation Angle (Deg)', font: '21px "DejaVu Sans"', fill: textColor,
      align: 'center', verticalAlign: 'middle'
    }
  }],
  series: series
})
</script>
</body>
</html>
